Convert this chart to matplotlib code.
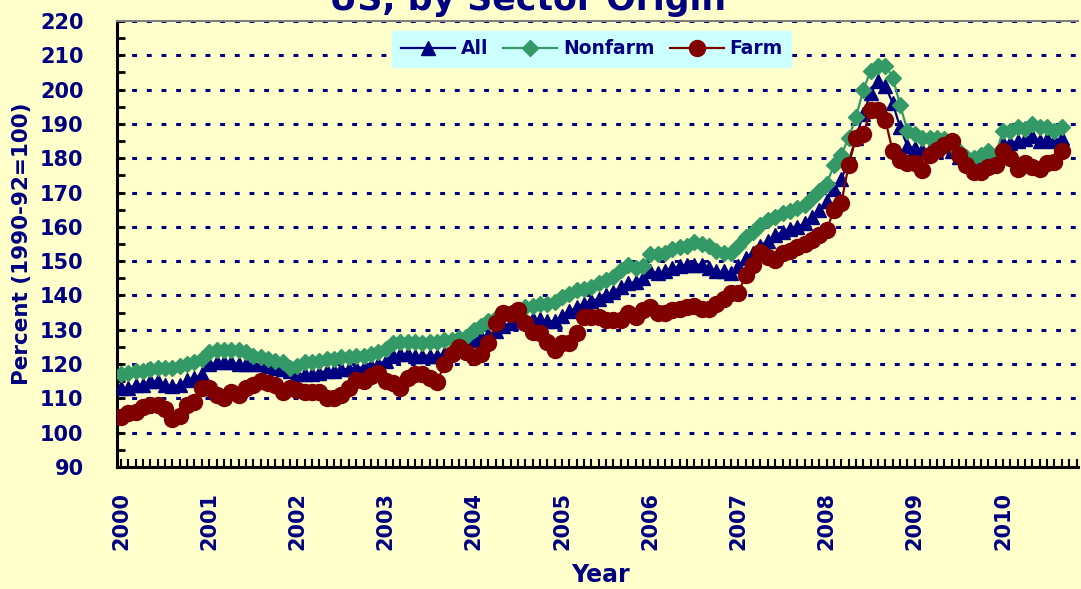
import matplotlib
matplotlib.use("Agg")
import matplotlib.pyplot as plt
from matplotlib.ticker import MultipleLocator, FixedLocator

# ---- data (monthly, Jan 2000 .. Sep 2010) ----
year_labels = ['2000', '2001', '2002', '2003', '2004', '2005',
               '2006', '2007', '2008', '2009', '2010']

all_sector = [
    113, 113, 114, 114, 115, 115, 114, 113.5, 114, 115.5, 116, 117,
    120, 120.5, 120.5, 120.5, 120, 120, 120, 120, 119.5, 119, 118.5, 118,
    117, 117, 117, 117.5, 118, 118, 118.5, 118.5, 119, 119, 119.5, 120,
    121, 122.5, 123, 123, 122.5, 122.5, 122.5, 122.5, 123, 123.5, 124, 125,
    127, 128, 128.5, 129.5, 131, 132, 133, 133, 133, 133, 132.5, 132.5,
    134, 135.5, 136.5, 137.5, 138.5, 139, 140, 141, 142.5, 143.5, 144, 145,
    147, 146.5, 147, 148, 148.5, 149, 149, 149, 148, 147, 147, 146.5,
    148.5, 151, 152.5, 154.5, 156, 157.5, 158.5, 159.5, 160, 161, 163, 165,
    167.5, 171, 174, 179, 186, 193, 199, 202.5, 201, 196, 189, 183.5,
    183, 182.5, 182.5, 183.5, 183.5, 182, 180.5, 179, 178.5, 179, 180, 180,
    184.5, 184.5, 185, 185.5, 186.5, 185, 185.5, 185, 186,
]

nonfarm = [
    117, 117.5, 118, 118, 118.5, 119, 118.8, 119, 119.5, 120, 120.5, 121.5,
    123.5, 124, 124, 124, 124, 123.5, 122.5, 122, 121.5, 121, 120.5, 119,
    119.5, 120.5, 120.5, 121, 121.5, 121.5, 122, 122, 122.5, 122.5, 123, 123.5,
    124.5, 126, 126.5, 126.5, 126.5, 126, 126.5, 126.5, 127, 127, 127.5, 128,
    130, 131, 132.5, 133.5, 134.5, 135, 135.5, 136.5, 137, 137.5, 137.5, 138,
    139.5, 140.5, 141.5, 142, 142.5, 143.5, 144.5, 145.5, 147.5, 149, 148, 148.5,
    152, 152, 152.5, 153.5, 154, 154.5, 155.5, 155, 154.5, 153, 152.5, 152.5,
    154.5, 157, 158.5, 160.5, 162, 163, 164, 164.5, 165.5, 166.5, 168.5, 170.5,
    172.5, 178, 181, 186, 192, 200, 205.5, 207, 207, 203.5, 195.5, 188,
    187, 186, 186, 186, 185.5, 184, 182, 180.5, 180, 181, 182, 181,
    188, 188, 189, 188.5, 190, 189, 189, 188, 189,
]

farm = [
    104.6, 105.7, 106, 107.5, 108, 108, 107, 104, 105, 108, 109, 113,
    113, 111, 110, 112, 111, 113, 114, 115, 114.5, 114, 112, 113,
    112.5, 112, 112, 112, 110, 110, 111, 113, 115.5, 115, 116.5, 117.5,
    115, 114.5, 113, 116, 117, 117, 116, 114.7, 120, 123, 125, 123.5,
    122, 123, 126, 132, 135, 134.5, 135.7, 132, 129.3, 129, 126.4, 124,
    126, 126, 129, 133.7, 133.7, 133.7, 132.8, 132.8, 132.8, 134.8, 133.7, 135.7,
    136.6, 135, 135, 135.7, 136, 136.6, 137, 136, 136, 137.5, 139, 140.7,
    140.7, 146, 149, 152.7, 151.2, 150.3, 152.5, 153, 154.2, 155, 156.2, 157.5,
    159, 165, 167, 178, 186, 187, 194, 194, 191, 182, 179.5, 178.6,
    178.6, 176.6, 181, 182.5, 184, 185, 181, 178, 176, 176, 177.5, 178,
    182, 180, 177, 178.6, 177.4, 177, 178.6, 179, 182,
]

NAVY = '#000080'
GREEN = '#339966'
MAROON = '#800000'
BG = '#FFFFCC'

W, H = 1081, 589
fig = plt.figure(figsize=(W / 100, H / 100), dpi=100, facecolor=BG)
ax = fig.add_axes([117 / W, 1 - 467 / H, (1078 - 117) / W, (467 - 21) / H])
ax.set_facecolor(BG)

x = list(range(len(all_sector)))

ax.plot(x, all_sector, color=NAVY, lw=1.6, marker='^', ms=10,
        mec=NAVY, mfc=NAVY, label='All', zorder=3)
ax.plot(x, nonfarm, color=GREEN, lw=1.6, marker='D', ms=8.5,
        mec=GREEN, mfc=GREEN, label='Nonfarm', zorder=4)
ax.plot(x, farm, color=MAROON, lw=1.6, marker='o', ms=11.5,
        mec=MAROON, mfc=MAROON, label='Farm', zorder=5)

ax.set_ylim(90, 220)
ax.set_xlim(-0.54, 130.2)

# y axis
ax.yaxis.set_major_locator(MultipleLocator(10))
ax.yaxis.set_minor_locator(MultipleLocator(5))
ax.tick_params(axis='y', which='both', direction='in', length=6, width=2,
               color='black', pad=24, labelsize=15, labelcolor=NAVY)
# x axis
ax.xaxis.set_major_locator(FixedLocator([12 * k for k in range(len(year_labels))]))
ax.xaxis.set_minor_locator(MultipleLocator(1))
ax.set_xticklabels(year_labels, rotation=90, fontweight='bold')
ax.tick_params(axis='x', which='both', direction='in', length=6, width=1.5,
               color='black', pad=18, labelsize=15, labelcolor=NAVY)
for lab in ax.get_yticklabels():
    lab.set_fontweight('bold')

ax.grid(axis='y', which='major', color=NAVY, lw=2.2,
        linestyle=(0, (1.6, 3.2)), zorder=1)

for s in ['left', 'bottom']:
    ax.spines[s].set_linewidth(2.2)
    ax.spines[s].set_color('black')
ax.spines['right'].set_visible(False)
ax.spines['top'].set_color('#808080')
ax.spines['top'].set_linewidth(1.5)

ax.set_ylabel('Percent (1990-92=100)', fontsize=15.5, fontweight='bold', color=NAVY)
ax.yaxis.set_label_coords(-0.088, 0.5)
ax.set_xlabel('Year', fontsize=17, fontweight='bold', color=NAVY)
ax.xaxis.set_label_coords(0.503, -0.216)

leg = ax.legend(loc='upper center', bbox_to_anchor=(0.494, 0.978), ncol=3,
                frameon=True, fancybox=False, facecolor='#CCFFFF',
                edgecolor='#CCFFFF', framealpha=1, numpoints=1,
                handlelength=2.9, handletextpad=0.3, columnspacing=0.8,
                borderpad=0.45, borderaxespad=0,
                prop={'weight': 'bold', 'size': 13.5})
for t in leg.get_texts():
    t.set_color(NAVY)

fig.text(528 / W, 1 - 10 / H, 'US, by Sector Origin', ha='center', va='baseline',
         fontsize=25, fontweight='bold', color=NAVY)

fig.savefig('out.png', dpi=100, facecolor=BG)
